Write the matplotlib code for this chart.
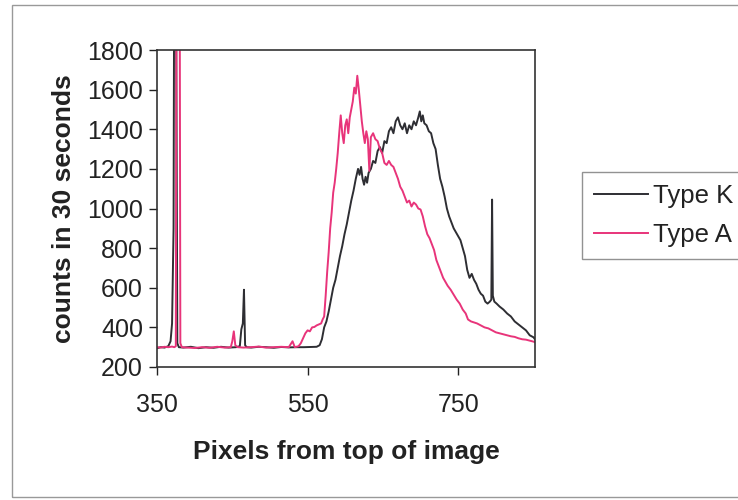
import matplotlib
matplotlib.use("Agg")
import matplotlib.pyplot as plt
from matplotlib.patches import Rectangle

plt.rcParams['font.family'] = ['Liberation Sans', 'DejaVu Sans']

k_x = [350, 355, 360, 365, 368, 370, 372, 373, 375, 377, 379, 385, 395, 405, 415, 425, 435, 445, 455,
       460, 462, 464, 465.5, 467, 469, 475, 485, 495, 505, 515, 525, 535, 545, 555, 562, 566, 569, 572,
       575, 578, 581, 584, 587, 590, 593, 596, 599, 602, 605, 608, 611, 614, 617, 619, 621, 623, 625,
       627, 629, 631, 634, 637, 640, 643, 646, 649, 652, 655, 658, 661, 664, 667, 670, 673, 676, 679,
       682, 685, 688, 691, 694, 697, 699, 701, 703, 705, 708, 711, 714, 717, 720, 723, 726, 729, 732,
       735, 738, 741, 744, 747, 750, 753, 756, 759, 762, 765, 768, 771, 774, 777, 780, 783, 786, 789,
       792, 794, 795, 796, 798, 801, 805, 810, 815, 820, 825, 830, 835, 840, 845, 850, 852]
k_y = [295, 300, 298, 305, 330, 420, 900, 2500, 2500, 320, 300, 298, 302, 295, 300, 297, 302, 298, 300,
       305, 390, 420, 590, 310, 300, 298, 302, 300, 297, 301, 299, 300, 300, 301, 302, 310, 340, 400,
       430, 480, 540, 600, 640, 700, 760, 810, 870, 920, 980, 1040, 1090, 1150, 1200, 1170, 1210, 1150, 1120,
       1160, 1130, 1180, 1200, 1240, 1230, 1290, 1310, 1280, 1340, 1330, 1390, 1410, 1380, 1440, 1460, 1420, 1400, 1430,
       1380, 1420, 1400, 1440, 1420, 1460, 1490, 1440, 1470, 1430, 1420, 1390, 1380, 1330, 1300, 1220, 1150, 1110, 1060,
       1000, 960, 930, 900, 880, 860, 840, 800, 760, 690, 650, 670, 640, 620, 590, 570, 560, 530, 520,
       530, 540, 1045, 560, 530, 520, 505, 490, 470, 455, 430, 415, 400, 385, 360, 350, 340]

a_x = [350, 355, 360, 365, 370, 373, 375, 376, 380, 381, 383, 390, 400, 410, 420, 430, 440, 448, 450,
       452, 454, 457, 465, 475, 485, 495, 505, 515, 525, 530, 533, 538, 541, 544, 547, 550, 553, 556,
       559, 562, 565, 568, 570, 572, 574, 576, 578, 580, 582, 584, 586, 588, 590, 592, 594, 596, 598,
       600, 602, 604, 606, 608, 610, 612, 614, 616, 618, 620, 622, 624, 626, 628, 630, 632, 634, 637,
       640, 643, 646, 649, 652, 655, 658, 661, 664, 667, 670, 673, 676, 679, 682, 685, 688, 691, 694,
       697, 700, 703, 706, 709, 712, 715, 718, 721, 724, 727, 730, 733, 736, 740, 744, 748, 752, 756,
       760, 763, 767, 771, 775, 780, 785, 790, 795, 800, 805, 810, 815, 820, 825, 830, 835, 840, 845,
       850, 852]
a_y = [300, 298, 302, 300, 303, 300, 305, 2500, 2500, 320, 300, 298, 296, 300, 297, 302, 298, 300, 330,
       380, 310, 300, 298, 300, 303, 298, 300, 302, 300, 330, 300, 305, 320, 345, 370, 385, 380, 400,
       402, 410, 415, 420, 440, 455, 560, 680, 780, 900, 980, 1080, 1130, 1200, 1280, 1380, 1470, 1380, 1330,
       1420, 1450, 1380, 1460, 1500, 1540, 1610, 1580, 1670, 1600, 1520, 1440, 1380, 1330, 1390, 1350, 1190, 1360, 1380,
       1350, 1340, 1300, 1280, 1230, 1220, 1240, 1220, 1210, 1180, 1150, 1110, 1090, 1060, 1030, 1040, 1010, 1030, 1020,
       1000, 995, 960, 910, 870, 850, 820, 790, 740, 710, 680, 650, 630, 610, 590, 565, 540, 520, 490,
       470, 440, 430, 425, 420, 410, 400, 395, 385, 375, 370, 365, 360, 355, 352, 345, 340, 338, 333,
       328, 325]

x_ticks = [350, 550, 750]
y_ticks = [200, 400, 600, 800, 1000, 1200, 1400, 1600, 1800]

fig = plt.figure(figsize=(7.38, 5.0), dpi=100)
ax = fig.add_axes([157/738, 1 - 367/500, (535-157)/738, (367-50)/500])

ax.plot(k_x, k_y, color='#2e2e33', lw=1.4, label='Type K')
ax.plot(a_x, a_y, color='#e8347a', lw=1.4, label='Type A')

ax.set_xlim(350, 852)
ax.set_ylim(200, 1800)
ax.set_xticks(x_ticks)
ax.set_yticks(y_ticks)
ax.tick_params(direction='out', length=6, width=1, labelsize=18, colors='#222222')
ax.tick_params(axis='x', pad=13)
ax.tick_params(axis='y', pad=4)
for s in ax.spines.values():
    s.set_linewidth(1.2)
    s.set_color('#333333')

ax.set_xlabel('Pixels from top of image', fontsize=19, fontweight='bold', labelpad=16, color='#222222')
ax.set_ylabel('counts in 30 seconds', fontsize=19, fontweight='bold', labelpad=8, color='#222222')

leg = fig.legend(loc='upper left', bbox_to_anchor=(582/738, 1 - 172/500), fontsize=18.5,
                 frameon=True, fancybox=False, handlelength=2.1, handletextpad=0.2,
                 borderpad=0.45, labelspacing=0.6, borderaxespad=0)
leg.get_frame().set_edgecolor('#777777')
leg.get_frame().set_linewidth(1.0)
for t in leg.get_texts():
    t.set_color('#222222')

fig.patches.append(Rectangle((12/738, 3/500), 1.2, 1 - 8/500, transform=fig.transFigure,
                             fill=False, edgecolor='#999999', lw=1.0))

fig.savefig('out.png', dpi=100)
